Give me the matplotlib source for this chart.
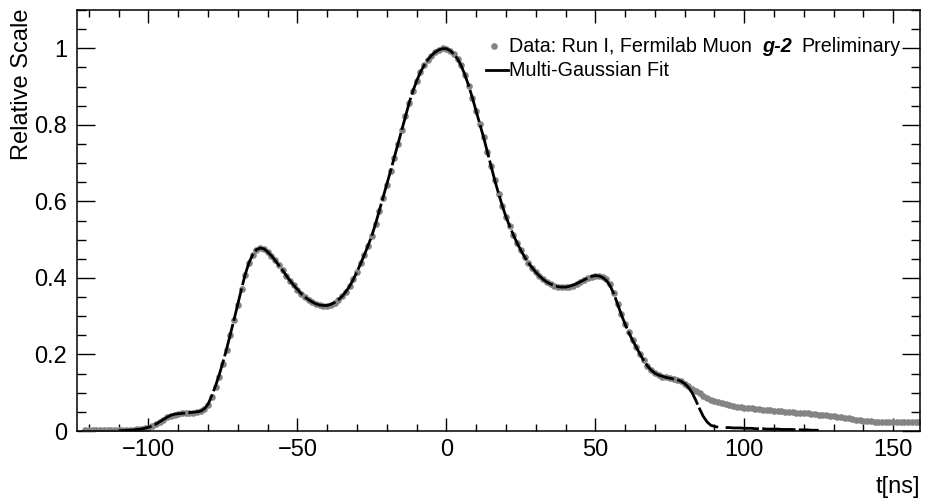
import numpy as np
import matplotlib
matplotlib.use("Agg")
import matplotlib.pyplot as plt
from matplotlib.ticker import MultipleLocator, FuncFormatter
from matplotlib.offsetbox import TextArea, HPacker, AnnotationBbox

plt.rcParams['font.family'] = ['Liberation Sans', 'DejaVu Sans']

# bunch profile, 1.25 ns bins starting at -121.25 ns
T0_DATA = -121.25
BIN = 1.25
data = [
    0.003,
    0.003, 0.003, 0.002, 0.003, 0.002, 0.002, 0.003, 0.002,
    0.002, 0.002, 0.003, 0.003, 0.003, 0.004, 0.005, 0.007,
    0.009, 0.012, 0.017, 0.023, 0.029, 0.036, 0.040, 0.043,
    0.045, 0.046, 0.046, 0.047, 0.048, 0.050, 0.053, 0.058,
    0.068, 0.090, 0.115, 0.142, 0.175, 0.212, 0.250, 0.290,
    0.330, 0.372, 0.408, 0.438, 0.460, 0.474, 0.479, 0.476,
    0.468, 0.458, 0.447, 0.434, 0.420, 0.406, 0.393, 0.381,
    0.369, 0.359, 0.350, 0.343, 0.337, 0.332, 0.329, 0.327,
    0.327, 0.330, 0.335, 0.342, 0.352, 0.364, 0.378, 0.396,
    0.416, 0.438, 0.460, 0.484, 0.510, 0.542, 0.576, 0.610,
    0.644, 0.679, 0.714, 0.750, 0.786, 0.822, 0.857, 0.888,
    0.914, 0.937, 0.955, 0.970, 0.981, 0.990, 0.996, 1.000,
    0.999, 0.994, 0.985, 0.972, 0.955, 0.930, 0.902, 0.870,
    0.836, 0.802, 0.768, 0.730, 0.692, 0.655, 0.620, 0.588,
    0.560, 0.535, 0.512, 0.491, 0.472, 0.455, 0.440, 0.427,
    0.415, 0.405, 0.396, 0.389, 0.383, 0.379, 0.376, 0.375,
    0.375, 0.377, 0.380, 0.384, 0.389, 0.394, 0.399, 0.403,
    0.406, 0.406, 0.403, 0.396, 0.383, 0.360, 0.332, 0.305,
    0.280, 0.258, 0.238, 0.220, 0.202, 0.185, 0.170, 0.159,
    0.151, 0.146, 0.142, 0.140, 0.138, 0.136, 0.134, 0.130,
    0.124, 0.117, 0.110, 0.104, 0.098, 0.092, 0.087, 0.082,
    0.078, 0.075, 0.072, 0.070, 0.068, 0.066, 0.064, 0.063,
    0.061, 0.060, 0.059, 0.058, 0.057, 0.056, 0.055, 0.054,
    0.053, 0.052, 0.051, 0.050, 0.049, 0.049, 0.048, 0.047,
    0.046, 0.046, 0.045, 0.044, 0.043, 0.042, 0.041, 0.040,
    0.039, 0.037, 0.036, 0.034, 0.033, 0.031, 0.030, 0.028,
    0.027, 0.026, 0.025, 0.024, 0.024, 0.023, 0.023, 0.023,
    0.023, 0.023, 0.023, 0.023, 0.023, 0.023, 0.023, 0.023,
]

# multi-gaussian fit, same binning starting at -110 ns (nan = gap in drawn curve)
T0_FIT = -110.0
fit = [
    0.001, 0.001, 0.002, 0.002, 0.003, 0.004, 0.005, 0.007,
    0.010, 0.013, 0.018, 0.024, 0.030, 0.036, 0.041, 0.044,
    0.045, 0.046, 0.047, 0.048, 0.049, 0.050, 0.052, 0.058,
    0.070, 0.092, 0.118, 0.147, 0.180, 0.215, 0.253, 0.292,
    0.332, 0.372, 0.410, 0.440, 0.461, 0.474, 0.478, 0.476,
    0.468, 0.458, 0.446, 0.433, 0.420, 0.406, 0.393, 0.381,
    0.370, 0.359, 0.350, 0.343, 0.337, 0.332, 0.329, 0.328,
    0.328, 0.331, 0.336, 0.343, 0.352, 0.364, 0.378, 0.396,
    0.416, 0.438, 0.461, 0.485, 0.511, 0.542, 0.576, 0.610,
    0.644, 0.679, 0.714, 0.750, 0.786, 0.822, 0.857, 0.888,
    0.914, 0.937, 0.955, 0.970, 0.981, 0.990, 0.996, 0.999,
    0.999, 0.994, 0.985, 0.972, 0.954, 0.930, 0.902, 0.870,
    0.836, 0.802, 0.767, 0.730, 0.692, 0.655, 0.621, 0.589,
    0.560, 0.535, 0.512, 0.491, 0.472, 0.455, 0.440, 0.427,
    0.415, 0.405, 0.396, 0.389, 0.384, 0.380, 0.377, 0.376,
    0.376, 0.378, 0.381, 0.385, 0.390, 0.395, 0.400, 0.404,
    0.406, 0.405, 0.401, 0.393, 0.379, 0.358, 0.331, 0.304,
    0.279, 0.257, 0.237, 0.219, 0.201, 0.184, 0.170, 0.159,
    0.151, 0.146, 0.143, 0.140, 0.138, 0.136, 0.134, 0.130,
    0.124, 0.114, 0.100, 0.080, 0.058, 0.038, 0.024, 0.015,
    0.012, 0.010, np.nan, 0.009, 0.009, 0.008, 0.008, 0.008,
    0.007, 0.007, 0.007, 0.006, 0.006, 0.006, 0.005, 0.005,
    0.005, 0.005, 0.004, 0.004, 0.004, 0.004, 0.003, 0.003,
    0.003, 0.003, 0.002, 0.002, 0.002,
]

t_data = T0_DATA + BIN * np.arange(len(data))
t_fit = T0_FIT + BIN * np.arange(len(fit))

W, H = 937, 501
fig = plt.figure(figsize=(W / 100, H / 100), dpi=100)
ax = fig.add_axes([77 / W, 70 / H, 843 / W, 421 / H])

gray = '#848484'
ax.plot(t_data, data, 'o', color=gray, ms=4.8, mec='none', zorder=2)
ax.plot(t_fit, fit, '-', color='black', lw=2.0, zorder=3,
        dashes=(12, 1.2), solid_capstyle='butt')

ax.set_xlim(-124, 159)
ax.set_ylim(0, 1.1)

ax.xaxis.set_major_locator(MultipleLocator(50))
ax.xaxis.set_minor_locator(MultipleLocator(10))
ax.yaxis.set_major_locator(MultipleLocator(0.2))
ax.yaxis.set_minor_locator(MultipleLocator(0.05))

fmt = FuncFormatter(lambda v, p: ('%g' % round(v, 6)).replace('-', '\u2212'))
ax.xaxis.set_major_formatter(fmt)
ax.yaxis.set_major_formatter(fmt)

ax.tick_params(which='both', direction='in', top=True, right=True,
               width=1.0, labelsize=17)
ax.tick_params(axis='x', which='major', length=9.5, pad=6)
ax.tick_params(axis='x', which='minor', length=5)
ax.tick_params(axis='y', which='major', length=13, pad=7)
ax.tick_params(axis='y', which='minor', length=6.5)
for s in ax.spines.values():
    s.set_linewidth(1.1)

fig.text(22 / W, 1 - 8 / H, 'Relative Scale', rotation=90,
         ha='center', va='top', fontsize=17)
fig.text(920 / W, 1 - 487 / H, 't[ns]', ha='right', va='center', fontsize=17)

# legend, drawn by hand so "g-2" can be bold italic
leg_fs = 14.2
ax.plot([0.4947], [0.914], 'o', color=gray, ms=4.8, mec='none',
        transform=ax.transAxes, clip_on=False)
ax.plot([0.485, 0.511], [0.857, 0.857], '-', color='black', lw=2.0,
        transform=ax.transAxes, clip_on=False)

row1 = HPacker(children=[
    TextArea('Data: Run I, Fermilab Muon', textprops=dict(fontsize=leg_fs)),
    TextArea('g-2', textprops=dict(fontsize=leg_fs, fontweight='bold',
                                   fontstyle='italic')),
    TextArea('Preliminary', textprops=dict(fontsize=leg_fs)),
], align='baseline', pad=0, sep=7)
ax.add_artist(AnnotationBbox(row1, (0.513, 0.914), xycoords='axes fraction',
                             box_alignment=(0, 0.5), frameon=False, pad=0))
row2 = TextArea('Multi-Gaussian Fit', textprops=dict(fontsize=leg_fs))
ax.add_artist(AnnotationBbox(row2, (0.513, 0.857), xycoords='axes fraction',
                             box_alignment=(0, 0.5), frameon=False, pad=0))

fig.savefig('out.png', dpi=100)
